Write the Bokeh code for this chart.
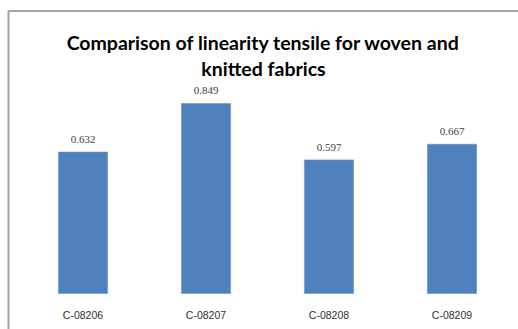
from bokeh.plotting import figure
from bokeh.models import (Range1d, LinearAxis, FixedTicker, ColumnDataSource,
                          LabelSet, Label)
from bokeh.embed import file_html
from bokeh.resources import INLINE

# Data
categories = ["C-08206", "C-08207", "C-08208", "C-08209"]
values = [0.632, 0.849, 0.597, 0.667]
value_labels = ["0.632", "0.849", "0.597", "0.667"]
title_lines = ["Comparison of linearity tensile for woven and", "knitted fabrics"]

W, H = 518, 329
# canvas geometry (pixels): baseline of bars and scale per unit
BASE_PX = 293.0
Y_UNIT_PX = 223.8
X_UNIT_PX = 123.0
FIRST_CENTER_PX = 82.5

x_start = 0.5 - FIRST_CENTER_PX / X_UNIT_PX
x_end = x_start + W / X_UNIT_PX
y_end = BASE_PX / Y_UNIT_PX
y_start = y_end - H / Y_UNIT_PX


def px_x(px):
    return x_start + px / X_UNIT_PX


def px_y(py):
    return (BASE_PX - py) / Y_UNIT_PX


p = figure(width=W, height=H, output_backend="svg", toolbar_location=None,
           x_range=Range1d(x_start, x_end), y_range=Range1d(y_start, y_end),
           x_axis_type=None, y_axis_type=None, min_border=0)
p.outline_line_color = None
p.background_fill_color = "white"
p.border_fill_color = "white"
p.xgrid.visible = False
p.ygrid.visible = False

xs = [i + 0.5 for i in range(len(categories))]
src = ColumnDataSource(dict(x=xs, top=values, label=value_labels))

# chart border (top and left edges)
border = "#a2a2a2"
p.segment(x0=[px_x(8), px_x(8)], y0=[px_y(10.5), px_y(10.5)],
          x1=[x_end, px_x(8)], y1=[px_y(10.5), y_start],
          line_color=border, line_width=2)

p.vbar(x="x", top="top", bottom=0, width=0.4, source=src,
       fill_color="#4f81bd", line_color="#6a96cc", line_width=0.6)

p.add_layout(LabelSet(x="x", y="top", text="label", source=src,
                      text_align="center", text_baseline="alphabetic",
                      y_offset=9, text_font="Liberation Serif",
                      text_font_size="11px", text_color="#404040"))

xaxis = LinearAxis(ticker=FixedTicker(ticks=xs),
                   major_label_overrides={x: c for x, c in zip(xs, categories)},
                   fixed_location=0)
xaxis.axis_line_color = None
xaxis.major_tick_line_color = None
xaxis.minor_tick_line_color = None
xaxis.major_label_standoff = 9
xaxis.major_label_text_font = "Liberation Sans"
xaxis.major_label_text_font_size = "10.5px"
xaxis.major_label_text_color = "#303030"
p.add_layout(xaxis, "below")

title_x = px_x(263)
for line, base in zip(title_lines, [42, 68]):
    p.add_layout(Label(x=title_x, y=px_y(base), text=line, text_align="center",
                       text_baseline="alphabetic", text_font="Lato",
                       text_font_style="bold", text_font_size="19.5px",
                       text_color="#000000"))

open("out.html", "w").write(file_html(p, INLINE))
